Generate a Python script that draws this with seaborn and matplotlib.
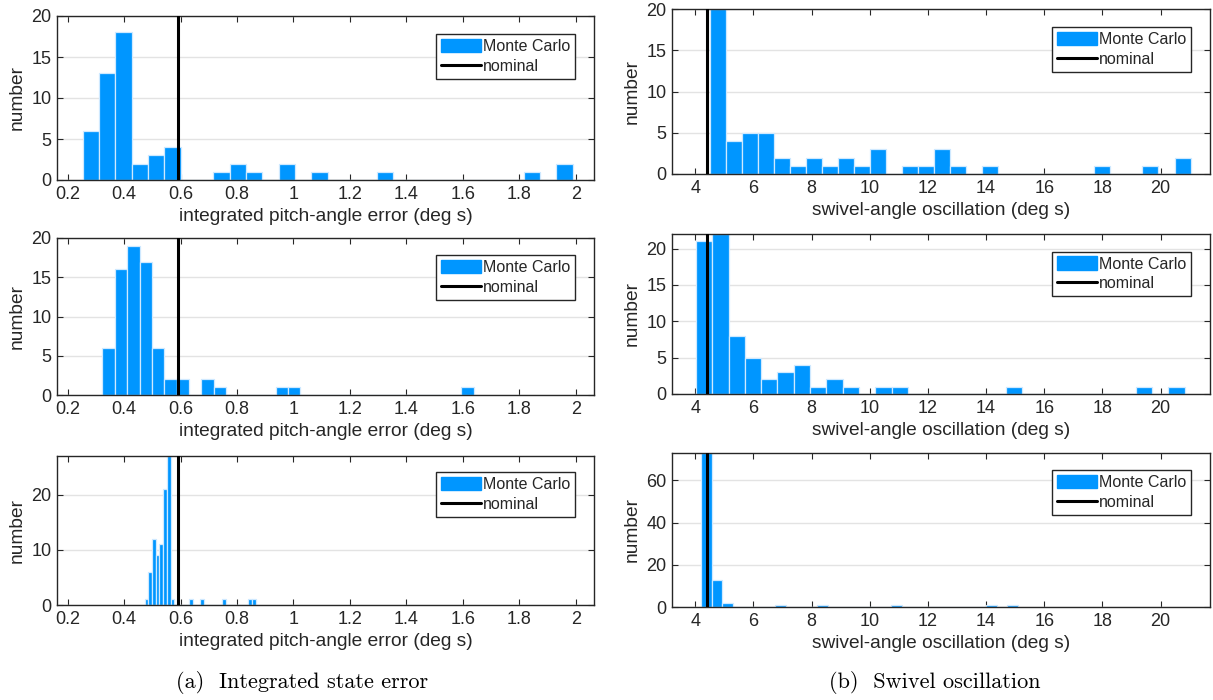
import numpy as np
import pandas as pd
import matplotlib
matplotlib.use("Agg")
import matplotlib.pyplot as plt
import seaborn as sns
from matplotlib.patches import Patch
from matplotlib.lines import Line2D

# ---------------- data ----------------
pitch_nominal = 0.59
swivel_nominal = 4.42

# row 1
pitch1_range = (0.253, 1.989)
pitch1_counts = [6, 13, 18, 2, 3, 4, 0, 0, 1, 2, 1, 0, 2, 0, 1,
                 0, 0, 0, 1, 0, 0, 0, 0, 0, 0, 0, 0, 1, 0, 2]
swivel1_range = (4.51, 21.03)
swivel1_counts = [20, 4, 5, 5, 2, 1, 2, 1, 2, 1, 3, 0, 1, 1, 3,
                  1, 0, 1, 0, 0, 0, 0, 0, 0, 1, 0, 0, 1, 0, 2]
# row 2
pitch2_range = (0.323, 1.639)
pitch2_counts = [6, 16, 19, 17, 6, 2, 2, 0, 2, 1, 0, 0, 0, 0, 1,
                 1, 0, 0, 0, 0, 0, 0, 0, 0, 0, 0, 0, 0, 0, 1]
swivel2_range = (4.027, 20.83)
swivel2_counts = [21, 22, 8, 5, 2, 3, 4, 1, 2, 1, 0, 1, 1, 0, 0,
                  0, 0, 0, 0, 1, 0, 0, 0, 0, 0, 0, 0, 1, 0, 1]
# row 3
pitch3_range = (0.4726, 0.8667)
pitch3_counts = [1, 6, 12, 9, 11, 21, 27, 1, 0, 0, 0, 0, 1, 0, 0,
                 1, 0, 0, 0, 0, 0, 1, 0, 0, 0, 0, 0, 0, 1, 1]
swivel3_range = (4.21, 15.085)
swivel3_counts = [73, 13, 2, 0, 0, 0, 0, 1, 0, 0, 0, 1, 0, 0, 0,
                  0, 0, 0, 1, 0, 0, 0, 0, 0, 0, 0, 0, 1, 0, 1]

pitch_xticks = [0.2, 0.4, 0.6, 0.8, 1.0, 1.2, 1.4, 1.6, 1.8, 2.0]
pitch_xticklabels = ["0.2", "0.4", "0.6", "0.8", "1", "1.2", "1.4", "1.6", "1.8", "2"]
swivel_xticks = [4, 6, 8, 10, 12, 14, 16, 18, 20]
swivel_xticklabels = ["4", "6", "8", "10", "12", "14", "16", "18", "20"]

pitch_xlabel = "integrated pitch-angle error (deg s)"
swivel_xlabel = "swivel-angle oscillation (deg s)"
ylabel = "number"
legend_labels = ["Monte Carlo", "nominal"]
caption_a = "(a)  Integrated state error"
caption_b = "(b)  Swivel oscillation"

# ---------------- style ----------------
sns.set_theme(style="ticks")
plt.rcParams["font.family"] = ["Liberation Sans", "DejaVu Sans"]
TXT = "#262626"
BLUE = "#0096FF"
plt.rcParams.update({
    "axes.edgecolor": TXT,
    "axes.labelcolor": TXT,
    "xtick.color": TXT,
    "ytick.color": TXT,
    "text.color": TXT,
})

W, H = 1213, 700
fig = plt.figure(figsize=(W / 100, H / 100), dpi=100)


def rect(x0, x1, y0, y1):
    return [x0 / W, 1 - y1 / H, (x1 - x0) / W, (y1 - y0) / H]


def draw(ax, rng, counts, nominal, xlim, ylim, xticks, xticklabels, yticks, xlabel):
    edges = np.linspace(rng[0], rng[1], len(counts) + 1)
    centers = (edges[:-1] + edges[1:]) / 2
    df = pd.DataFrame({"value": centers, "count": np.asarray(counts, dtype=float)})
    sns.histplot(data=df, x="value", weights="count", bins=edges.tolist(), ax=ax,
                 color=BLUE, alpha=1.0, edgecolor="#CFE9FF", linewidth=0.9,
                 zorder=2)
    ax.axvline(nominal, color="black", lw=2.2, zorder=3)
    ax.set_xlim(*xlim)
    ax.set_ylim(*ylim)
    ax.set_xticks(xticks)
    ax.set_xticklabels(xticklabels)
    ax.set_yticks(yticks)
    ax.set_xlabel(xlabel, fontsize=13.8, labelpad=4)
    ax.set_ylabel(ylabel, fontsize=13.8, labelpad=4)
    ax.set_axisbelow(True)
    ax.yaxis.grid(True, color="#E3E3E3", lw=1.0)
    ax.xaxis.grid(False)
    ax.tick_params(direction="in", length=4, width=0.8, top=True, right=True,
                   labelsize=13, pad=4)
    for s in ax.spines.values():
        s.set_linewidth(1.0)
        s.set_color(TXT)
    handles = [Patch(facecolor=BLUE, edgecolor=BLUE),
               Line2D([0], [0], color="black", lw=2.2)]
    leg = ax.legend(handles, legend_labels, loc="upper right",
                    bbox_to_anchor=(0.965, 0.89), borderaxespad=0,
                    fontsize=11.5, frameon=True, fancybox=False,
                    handlelength=2.5, handleheight=0.9, handletextpad=0.15,
                    labelspacing=0.3, borderpad=0.3)
    leg.get_frame().set_edgecolor(TXT)
    leg.get_frame().set_linewidth(1.0)
    leg.get_frame().set_alpha(1)


LX0, LX1 = 57, 594
RX0, RX1 = 672, 1210
pitch_xlim = (0.162, 2.065)
swivel_xlim = (3.2, 21.7)

ax1 = fig.add_axes(rect(LX0, LX1, 16, 180))
draw(ax1, pitch1_range, pitch1_counts, pitch_nominal, pitch_xlim, (0, 20),
     pitch_xticks, pitch_xticklabels, [0, 5, 10, 15, 20], pitch_xlabel)
ax2 = fig.add_axes(rect(RX0, RX1, 9, 174))
draw(ax2, swivel1_range, swivel1_counts, swivel_nominal, swivel_xlim, (0, 20),
     swivel_xticks, swivel_xticklabels, [0, 5, 10, 15, 20], swivel_xlabel)

ax3 = fig.add_axes(rect(LX0, LX1, 238, 395))
draw(ax3, pitch2_range, pitch2_counts, pitch_nominal, pitch_xlim, (0, 20),
     pitch_xticks, pitch_xticklabels, [0, 5, 10, 15, 20], pitch_xlabel)
ax4 = fig.add_axes(rect(RX0, RX1, 234, 394))
draw(ax4, swivel2_range, swivel2_counts, swivel_nominal, swivel_xlim, (0, 22),
     swivel_xticks, swivel_xticklabels, [0, 5, 10, 15, 20], swivel_xlabel)

ax5 = fig.add_axes(rect(LX0, LX1, 456, 605))
draw(ax5, pitch3_range, pitch3_counts, pitch_nominal, pitch_xlim, (0, 27),
     pitch_xticks, pitch_xticklabels, [0, 10, 20], pitch_xlabel)
ax6 = fig.add_axes(rect(RX0, RX1, 453, 607))
draw(ax6, swivel3_range, swivel3_counts, swivel_nominal, swivel_xlim, (0, 73),
     swivel_xticks, swivel_xticklabels, [0, 20, 40, 60], swivel_xlabel)

fig.text(302 / W, 1 - 682 / H, caption_a, family="cmr10", fontsize=16,
         ha="center", va="center", color="black")
fig.text(935 / W, 1 - 682 / H, caption_b, family="cmr10", fontsize=16,
         ha="center", va="center", color="black")

fig.savefig("out.png", dpi=100)
